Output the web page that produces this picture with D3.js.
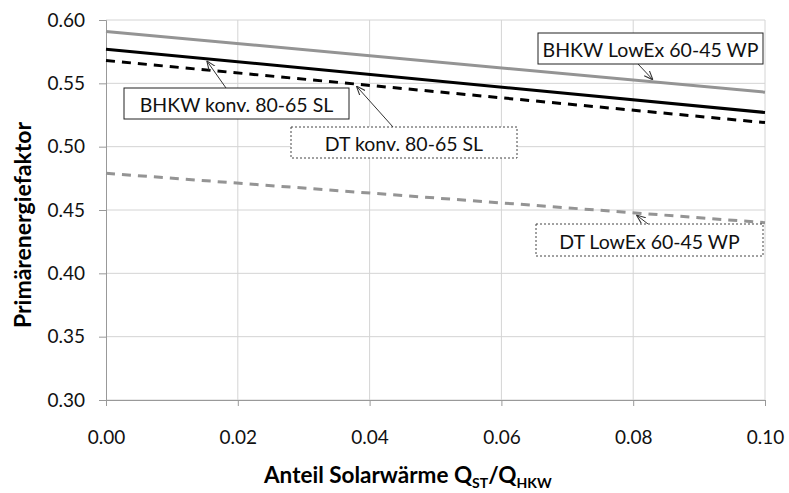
<!DOCTYPE html>
<html>
<head>
<meta charset="utf-8">
<script src="https://cdn.jsdelivr.net/npm/d3@7"></script>
<style>
  body { margin: 0; background: #fff; }
  text { font-family: Lato, "Liberation Sans", sans-serif; }
</style>
</head>
<body>
<svg width="789" height="493"></svg>
<script>
// x values (Anteil Solarwärme)
var xVals = [0, 0.10];
var bhkwLowEx = [0.591, 0.543];
var bhkwKonv = [0.577, 0.527];
var dtKonv = [0.568, 0.519];
var dtLowEx = [0.479, 0.440];
var xTicks = [0, 0.02, 0.04, 0.06, 0.08, 0.10];
var yTicks = [0.30, 0.35, 0.40, 0.45, 0.50, 0.55, 0.60];

var svg = d3.select("svg");
var mLeft = 106, mRight = 765, mTop = 20, mBottom = 400;

var xScale = d3.scaleLinear().domain([0, 0.10]).range([mLeft, mRight]);
var yScale = d3.scaleLinear().domain([0.30, 0.60]).range([mBottom, mTop]);

// gridlines
svg.append("g").selectAll("line")
  .data(yTicks).enter().append("line")
  .attr("x1", mLeft).attr("x2", mRight)
  .attr("y1", function(d) { return yScale(d); })
  .attr("y2", function(d) { return yScale(d); })
  .attr("stroke", "#d4d4d4").attr("stroke-width", 1);
svg.append("g").selectAll("line")
  .data(xTicks.slice(1)).enter().append("line")
  .attr("y1", mTop).attr("y2", mBottom)
  .attr("x1", function(d) { return xScale(d); })
  .attr("x2", function(d) { return xScale(d); })
  .attr("stroke", "#d4d4d4").attr("stroke-width", 1);

// axes
var xAxis = d3.axisBottom(xScale).tickValues(xTicks).tickSize(6).tickPadding(25)
  .tickFormat(d3.format(".2f"));
var yAxis = d3.axisLeft(yScale).tickValues(yTicks).tickSize(7).tickPadding(14)
  .tickFormat(d3.format(".2f"));

var gx = svg.append("g").attr("transform", "translate(0," + mBottom + ")").call(xAxis);
var gy = svg.append("g").attr("transform", "translate(" + mLeft + ",0)").call(yAxis);
[gx, gy].forEach(function(g) {
  g.select(".domain").attr("stroke", "#999");
  g.selectAll(".tick line").attr("stroke", "#999");
  g.selectAll(".tick text").attr("font-size", 19).attr("fill", "#111")
    .style("font-family", "Lato, sans-serif");
});

// lines
var line = d3.line()
  .x(function(d) { return xScale(d[0]); })
  .y(function(d) { return yScale(d[1]); });

var series = [
  { vals: bhkwLowEx, color: "#949494", dash: null },
  { vals: bhkwKonv, color: "#000", dash: null },
  { vals: dtKonv, color: "#000", dash: "9,7" },
  { vals: dtLowEx, color: "#949494", dash: "9,7" }
];
series.forEach(function(s) {
  svg.append("path")
    .datum(d3.zip(xVals, s.vals))
    .attr("d", line)
    .attr("fill", "none")
    .attr("stroke", s.color)
    .attr("stroke-width", 3)
    .attr("stroke-dasharray", s.dash);
});

// annotations
svg.append("defs").append("marker")
  .attr("id", "arr").attr("viewBox", "0 0 10 10")
  .attr("refX", 10).attr("refY", 5)
  .attr("markerWidth", 9).attr("markerHeight", 9)
  .attr("markerUnits", "userSpaceOnUse")
  .attr("orient", "auto")
  .append("path").attr("d", "M0,1 L10,5 L0,9").attr("fill", "none")
  .attr("stroke", "#333").attr("stroke-width", 1.2);

var labels = [
  { text: "BHKW LowEx 60-45 WP", x: 538, y: 33, w: 225, h: 31, dotted: false, ax: 638, ay: 64, tx: 0.0830, series: 0 },
  { text: "BHKW konv. 80-65 SL", x: 124, y: 88, w: 225, h: 31, dotted: false, ax: 226, ay: 88, tx: 0.0153, series: 1 },
  { text: "DT konv. 80-65 SL", x: 291, y: 127, w: 226, h: 31, dotted: true, ax: 393, ay: 127, tx: 0.0380, series: 2 },
  { text: "DT LowEx 60-45 WP", x: 536, y: 224, w: 227, h: 32, dotted: true, ax: 648, ay: 224, tx: 0.0805, series: 3 }
];

labels.forEach(function(l) {
  var s = series[l.series].vals;
  var ty = s[0] + (s[1] - s[0]) * (l.tx / 0.10);
  svg.append("line")
    .attr("x1", l.ax).attr("y1", l.ay)
    .attr("x2", xScale(l.tx)).attr("y2", yScale(ty) + (l.ay > yScale(ty) ? 2 : -2))
    .attr("stroke", "#333").attr("stroke-width", 1)
    .attr("marker-end", "url(#arr)");
  svg.append("rect")
    .attr("x", l.x).attr("y", l.y).attr("width", l.w).attr("height", l.h)
    .attr("fill", "#fff").attr("stroke", l.dotted ? "#444" : "#222")
    .attr("stroke-width", 1)
    .attr("stroke-dasharray", l.dotted ? "2,2" : null);
  svg.append("text")
    .attr("x", l.x + l.w / 2).attr("y", l.y + l.h / 2 + 8.5)
    .attr("text-anchor", "middle").attr("font-size", 19.5).attr("fill", "#111")
    .text(l.text);
});

// axis titles
svg.append("text")
  .attr("transform", "translate(31,225) rotate(-90)")
  .attr("text-anchor", "middle").attr("font-size", 23).attr("font-weight", "bold")
  .text("Primärenergiefaktor");

var xt = svg.append("text")
  .attr("x", 264).attr("y", 483)
  .attr("text-anchor", "start").attr("font-size", 22.5).attr("font-weight", "bold");
xt.append("tspan").text("Anteil Solarwärme Q");
xt.append("tspan").attr("font-size", 14).attr("dy", 5).text("ST");
xt.append("tspan").attr("dy", -5).text("/Q");
xt.append("tspan").attr("font-size", 14).attr("dy", 5).text("HKW");
</script>
</body>
</html>
